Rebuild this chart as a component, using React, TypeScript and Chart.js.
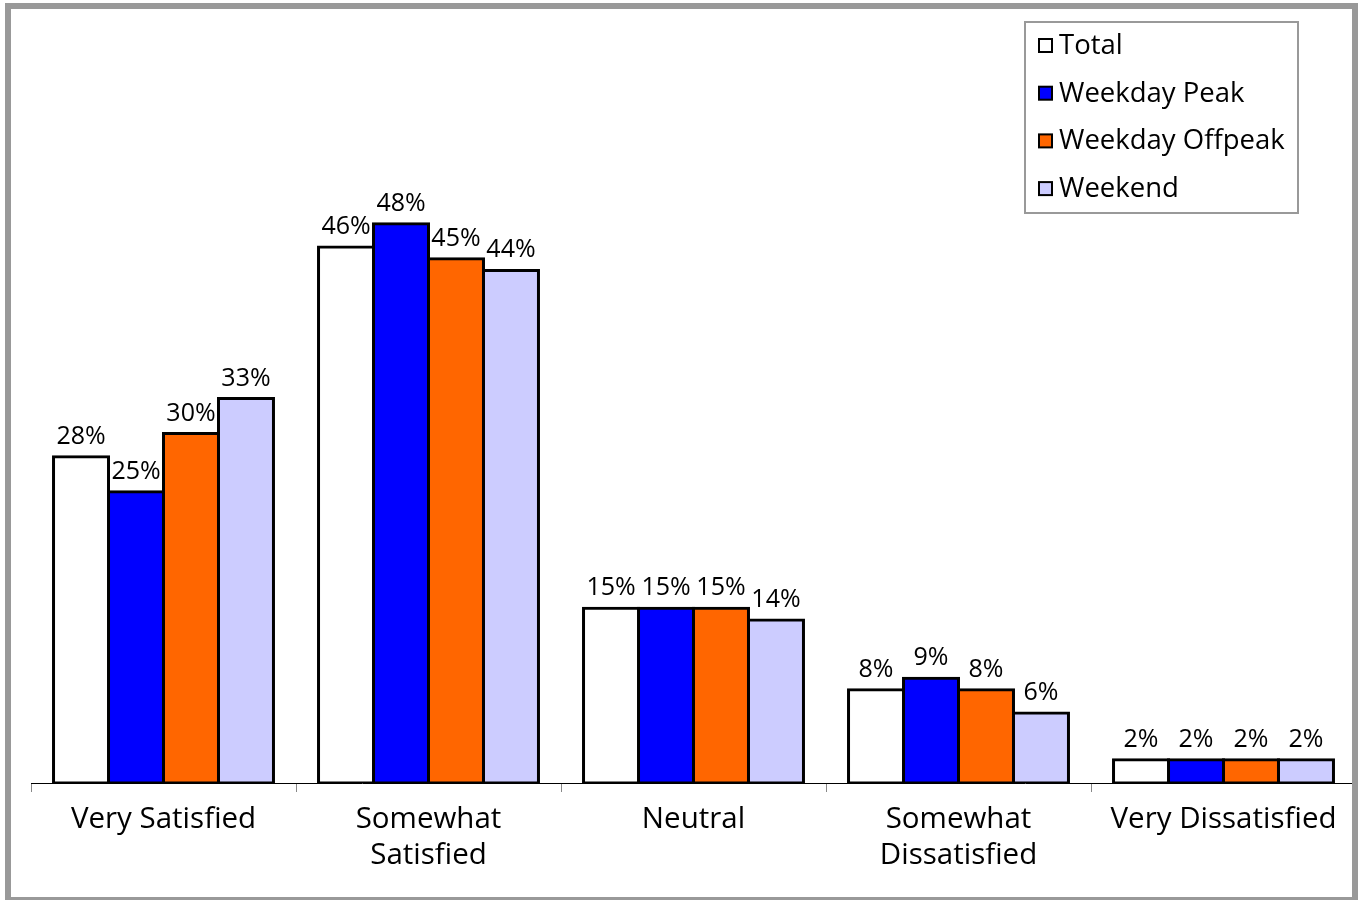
import React, { useEffect, useRef } from "react";
import { Chart, registerables } from "chart.js";

Chart.register(...registerables);

// Survey categories (multi-line labels for the x axis)
const categories: string[][] = [
  ["Very Satisfied"],
  ["Somewhat", "Satisfied"],
  ["Neutral"],
  ["Somewhat", "Dissatisfied"],
  ["Very Dissatisfied"],
];

const seriesNames = ["Total", "Weekday Peak", "Weekday Offpeak", "Weekend"];

// Percent of respondents per category
const total = [28, 46, 15, 8, 2];
const weekdayPeak = [25, 48, 15, 9, 2];
const weekdayOffpeak = [30, 45, 15, 8, 2];
const weekend = [33, 44, 14, 6, 2];

const seriesColors = ["#FFFFFF", "#0000FF", "#FF6600", "#CCCCFF"];

const FONT = "'Open Sans', 'Noto Sans', sans-serif";

// Percentage labels above every bar
const valueLabels = {
  id: "valueLabels",
  afterDatasetsDraw(chart: any) {
    const ctx = chart.ctx;
    ctx.save();
    ctx.font = `25px ${FONT}`;
    ctx.fillStyle = "#000";
    ctx.textAlign = "center";
    ctx.textBaseline = "alphabetic";
    chart.data.datasets.forEach((ds: any, i: number) => {
      const meta = chart.getDatasetMeta(i);
      meta.data.forEach((bar: any, j: number) => {
        const v = ds.data[j] as number;
        ctx.fillText(`${Math.round(v)}%`, bar.x, bar.y - 13);
      });
    });
    ctx.restore();
  },
};

// Boxed legend in the upper right corner
const boxLegend = {
  id: "boxLegend",
  afterDraw(chart: any) {
    const ctx = chart.ctx;
    const x = 1025, y = 22, w = 273, h = 191;
    ctx.save();
    ctx.fillStyle = "#fff";
    ctx.fillRect(x, y, w, h);
    ctx.strokeStyle = "#999";
    ctx.lineWidth = 2;
    ctx.strokeRect(x, y, w, h);
    ctx.font = `27.5px ${FONT}`;
    ctx.textBaseline = "middle";
    ctx.textAlign = "left";
    chart.data.datasets.forEach((ds: any, i: number) => {
      const cy = 45 + i * 47.7;
      ctx.fillStyle = ds.backgroundColor;
      ctx.fillRect(1039, cy - 6, 13, 13);
      ctx.strokeStyle = "#000";
      ctx.lineWidth = 2;
      ctx.strokeRect(1039, cy - 6, 13, 13);
      ctx.fillStyle = "#000";
      ctx.fillText(ds.label, 1059, cy + 1);
    });
    ctx.restore();
  },
};

export default function App() {
  const canvasRef = useRef<HTMLCanvasElement | null>(null);

  useEffect(() => {
    if (!canvasRef.current) return;
    const seriesValues = [total, weekdayPeak, weekdayOffpeak, weekend];
    const chart = new Chart(canvasRef.current, {
      type: "bar",
      data: {
        labels: categories,
        datasets: seriesNames.map((name, i) => ({
          label: name,
          data: seriesValues[i],
          backgroundColor: seriesColors[i],
          borderColor: "#000",
          borderWidth: 3,
          borderSkipped: false,
          inflateAmount: 1.5,
          categoryPercentage: 0.83,
          barPercentage: 1,
        })),
      },
      options: {
        responsive: false,
        animation: false,
        layout: { padding: { left: 31, right: 5, top: 84, bottom: 0 } },
        plugins: {
          legend: { display: false },
          tooltip: { enabled: false },
        },
        scales: {
          x: {
            offset: true,
            afterFit: (scale: any) => {
              scale.height = 117;
            },
            grid: {
              display: true,
              offset: true,
              drawOnChartArea: false,
              drawTicks: true,
              tickLength: 9,
              color: "#888",
            },
            border: { display: true, color: "#000", width: 1 },
            ticks: {
              color: "#000",
              padding: 10,
              maxRotation: 0,
              autoSkip: false,
              font: { family: FONT, size: 29.5, lineHeight: 1.2 },
            },
          },
          y: {
            display: false,
            min: 0,
            max: 60,
          },
        },
      },
      plugins: [valueLabels, boxLegend],
    });
    return () => chart.destroy();
  }, []);

  return (
    <div style={{ position: "absolute", left: 0, top: 0, width: 1361, height: 900, background: "#fff", overflow: "hidden" }}>
      <canvas ref={canvasRef} width={1361} height={900} style={{ display: "block" }} />
      <div
        style={{
          position: "absolute",
          left: 5,
          top: 3,
          width: 1353,
          height: 900,
          border: "6px solid #999",
          boxSizing: "border-box",
          pointerEvents: "none",
        }}
      />
    </div>
  );
}
